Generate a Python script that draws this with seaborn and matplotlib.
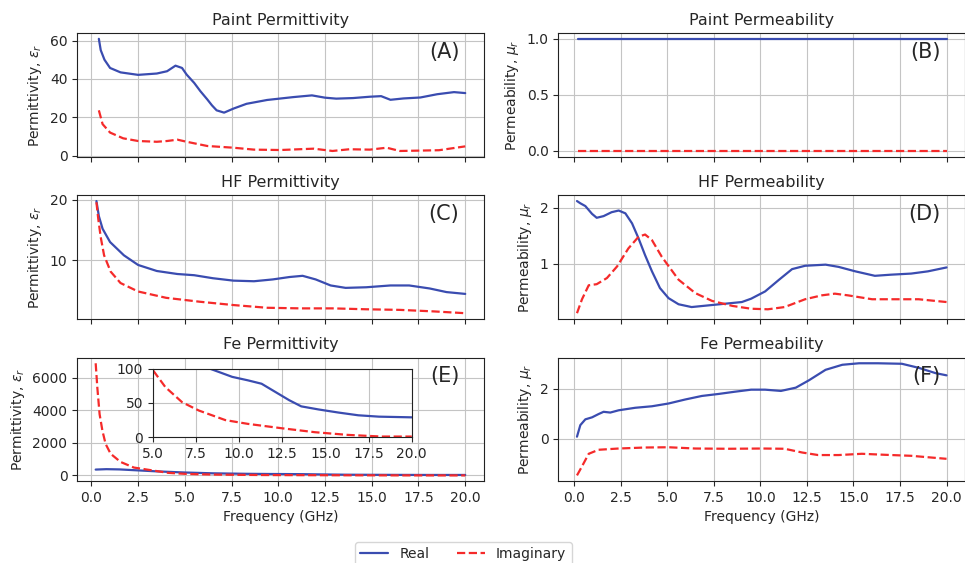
import matplotlib
matplotlib.use("Agg")
import matplotlib.pyplot as plt
import seaborn as sns

# ---- Paint permittivity (A) ----
paint_eps_re_f = [0.4, 0.5, 0.7, 1.0, 1.56, 2.5, 3.5, 4.05, 4.5, 4.85, 5.1, 5.5, 5.83, 6.2, 6.45, 6.7,
                  7.1, 7.6, 8.3, 9.4, 10.8, 11.8, 12.5, 13.1, 14.0, 14.9, 15.5, 16.0, 16.7, 17.6,
                  18.5, 19.4, 20.0]
paint_eps_re = [60.9, 55, 50, 45.7, 43.4, 42.1, 42.8, 44, 46.9, 45.7, 42.2, 37.9, 33.6, 29.3, 26.2, 23.6,
                22.4, 24.5, 27, 29, 30.5, 31.4, 30.2, 29.7, 30, 30.7, 31, 29.1, 29.8, 30.3,
                32, 33.1, 32.6]
paint_eps_im_f = [0.4, 0.6, 1.0, 1.7, 2.5, 3.5, 4.05, 4.6, 5.1, 6.2, 7.6, 8.7, 10.1, 11.9, 12.9,
                  13.8, 14.9, 15.8, 16.5, 17.6, 18.6, 20.0]
paint_eps_im = [23.6, 16.4, 12, 9, 7.6, 7.2, 7.6, 8.3, 7.2, 5, 4.1, 3.1, 2.9, 3.6, 2.4,
                3.3, 3.1, 4.1, 2.4, 2.6, 2.8, 4.8]

# ---- Paint permeability (B) ----
paint_mu_f = [0.2, 5.0, 10.0, 15.0, 20.0]
paint_mu_re = [1.0, 1.0, 1.0, 1.0, 1.0]
paint_mu_im = [0.0, 0.0, 0.0, 0.0, 0.0]

# ---- HF permittivity (C) ----
hf_eps_re_f = [0.27, 0.4, 0.6, 1.0, 1.74, 2.5, 3.5, 4.6, 5.5, 6.5, 7.6, 8.7, 9.7, 10.6, 11.3, 12.0,
               12.8, 13.6, 14.7, 16.0, 17.0, 18.1, 19.0, 20.0]
hf_eps_re = [19.8, 17.3, 15.2, 13, 10.8, 9.2, 8.2, 7.7, 7.5, 7, 6.6, 6.5, 6.8, 7.2, 7.4, 6.8,
             5.8, 5.4, 5.5, 5.8, 5.8, 5.3, 4.7, 4.4]
hf_eps_im_f = [0.27, 0.37, 0.5, 0.68, 1.03, 1.56, 2.5, 4.0, 5.8, 7.6, 9.4, 11.2, 12.9, 14.7,
               16.5, 18.3, 20.0]
hf_eps_im = [19.6, 16.8, 13.8, 10.8, 8.1, 6.2, 4.8, 3.75, 3.1, 2.55, 2.1, 2.0, 2.0, 1.85,
             1.75, 1.5, 1.2]

# ---- HF permeability (D) ----
hf_mu_re_f = [0.14, 0.32, 0.59, 0.95, 1.2, 1.57, 2.0, 2.38, 2.74, 3.1, 3.45, 3.8, 4.17, 4.6, 5.06,
              5.6, 6.3, 7.2, 8.1, 9.0, 9.5, 10.25, 11.0, 11.7, 12.4, 13.5, 14.2, 15.1, 16.15,
              17.0, 18.1, 19.0, 20.0]
hf_mu_re = [2.12, 2.08, 2.03, 1.89, 1.82, 1.85, 1.92, 1.95, 1.9, 1.72, 1.45, 1.15, 0.86, 0.56, 0.38,
            0.27, 0.22, 0.25, 0.28, 0.31, 0.37, 0.5, 0.71, 0.9, 0.96, 0.98, 0.94, 0.86, 0.78,
            0.8, 0.82, 0.86, 0.93]
hf_mu_im_f = [0.14, 0.41, 0.77, 1.2, 1.75, 2.3, 2.9, 3.45, 3.8, 4.17, 4.7, 5.6, 6.5, 7.4, 8.5,
              9.5, 10.4, 11.3, 12.4, 13.3, 14.0, 14.7, 16.0, 17.4, 18.5, 20.0]
hf_mu_im = [0.11, 0.36, 0.61, 0.63, 0.74, 0.95, 1.27, 1.48, 1.52, 1.42, 1.12, 0.71, 0.47, 0.33, 0.24,
            0.19, 0.18, 0.22, 0.36, 0.43, 0.46, 0.43, 0.36, 0.36, 0.36, 0.31]

# ---- Fe permittivity (E) ----
fe_eps_re_f = [0.23, 0.8, 1.5, 2.5, 3.5, 5.0, 6.5, 8.3, 9.6, 10.5, 11.3, 12.1, 12.9, 13.6, 14.6,
               15.75, 16.9, 18.1, 20.0]
fe_eps_re = [360, 385, 370, 310, 250, 180, 130, 100, 88, 83, 78, 66, 54, 45, 40.5,
             36, 32, 30, 29]
fe_eps_im_f = [0.23, 0.32, 0.44, 0.59, 0.76, 1.03, 1.56, 2.27, 3.2, 4.1, 5.0, 5.73, 6.7, 7.66,
               9.2, 10.5, 12.5, 14.4, 16.3, 18.25, 20.0]
fe_eps_im = [6890, 5370, 3760, 2750, 1940, 1330, 830, 485, 320, 160, 98, 73, 51, 39,
             25, 19.5, 13, 7.3, 3.4, 1, 1]

# ---- Fe permeability (F) ----
fe_mu_re_f = [0.14, 0.32, 0.59, 0.95, 1.3, 1.57, 1.93, 2.38, 3.27, 4.17, 5.06, 5.96, 6.85, 7.75,
              8.64, 9.5, 10.25, 11.1, 11.9, 12.6, 13.5, 14.4, 15.3, 16.3, 17.6, 18.5, 19.4, 20.0]
fe_mu_re = [0.09, 0.55, 0.78, 0.86, 0.99, 1.08, 1.05, 1.14, 1.24, 1.3, 1.41, 1.57, 1.71, 1.79,
            1.88, 1.96, 1.96, 1.91, 2.04, 2.33, 2.75, 2.95, 3.01, 3.01, 2.99, 2.83, 2.62, 2.53]
fe_mu_im_f = [0.14, 0.41, 0.77, 1.3, 2.38, 3.8, 5.06, 6.5, 8.3, 10.1, 11.3, 12.25, 13.1, 14.2,
              15.45, 16.7, 18.1, 20.0]
fe_mu_im = [-1.45, -1.09, -0.59, -0.43, -0.38, -0.34, -0.33, -0.38, -0.39, -0.38, -0.39, -0.54,
            -0.64, -0.64, -0.59, -0.63, -0.67, -0.79]

BLUE = '#3a4cb0'
RED = '#f52a2a'


def draw_pair(ax, f_re, re, f_im, im):
    sns.lineplot(x=f_re, y=re, ax=ax, color=BLUE, lw=1.6, label='Real', legend=False)
    sns.lineplot(x=f_im, y=im, ax=ax, color=RED, lw=1.6, linestyle='--', label='Imaginary', legend=False)


def main():
    sns.set_style('ticks', {'axes.grid': True, 'grid.color': '#c4c4c4',
                            'axes.edgecolor': '#222222'})
    plt.rcParams['font.family'] = ['DejaVu Sans']
    plt.rcParams['font.size'] = 10
    plt.rcParams['axes.titlesize'] = 11.5

    fig, axes = plt.subplots(3, 2, figsize=(9.65, 5.63), dpi=100, sharex='col')
    fig.subplots_adjust(left=0.08, right=1.0, bottom=0.1456, top=0.941, wspace=0.184, hspace=0.315)

    panels = [
        (axes[0, 0], paint_eps_re_f, paint_eps_re, paint_eps_im_f, paint_eps_im, 'Paint Permittivity', '(A)'),
        (axes[0, 1], paint_mu_f, paint_mu_re, paint_mu_f, paint_mu_im, 'Paint Permeability', '(B)'),
        (axes[1, 0], hf_eps_re_f, hf_eps_re, hf_eps_im_f, hf_eps_im, 'HF Permittivity', '(C)'),
        (axes[1, 1], hf_mu_re_f, hf_mu_re, hf_mu_im_f, hf_mu_im, 'HF Permeability', '(D)'),
        (axes[2, 0], fe_eps_re_f, fe_eps_re, fe_eps_im_f, fe_eps_im, 'Fe Permittivity', '(E)'),
        (axes[2, 1], fe_mu_re_f, fe_mu_re, fe_mu_im_f, fe_mu_im, 'Fe Permeability', '(F)'),
    ]
    for i, (ax, fr, r, fi, im, title, tag) in enumerate(panels):
        draw_pair(ax, fr, r, fi, im)
        ax.set_title(title)
        ax.text(0.94, 0.85, tag, transform=ax.transAxes, ha='right', va='center', fontsize=15)
        if i % 2 == 0:
            ax.set_ylabel(r'Permittivity, $\epsilon_r$')
        else:
            ax.set_ylabel(r'Permeability, $\mu_r$')
        ax.set_xticks([0, 2.5, 5, 7.5, 10, 12.5, 15, 17.5, 20])
    for ax in axes[2]:
        ax.set_xlabel('Frequency (GHz)')
    axes[0, 1].set_yticks([0.0, 0.5, 1.0])
    axes[1, 0].set_yticks([10, 20])
    axes[1, 1].set_yticks([1, 2])
    axes[2, 1].set_yticks([0, 2])

    # Inset for Fe permittivity
    ins = axes[2, 0].inset_axes([0.186, 0.355, 0.637, 0.556])
    draw_pair(ins, fe_eps_re_f, fe_eps_re, fe_eps_im_f, fe_eps_im)
    ins.set_xlim(5, 20)
    ins.set_ylim(0, 100)
    ins.set_xticks([5, 7.5, 10, 12.5, 15, 17.5, 20])
    ins.set_xticklabels(['5.0', '7.5', '10.0', '12.5', '15.0', '17.5', '20.0'])
    ins.set_yticks([0, 50, 100])
    ins.grid(True)

    handles, labels = axes[0, 0].get_legend_handles_labels()
    fig.legend(handles, labels, loc='upper center', ncol=2, bbox_to_anchor=(0.48, 0.05),
               frameon=True, fontsize=10)

    fig.savefig('out.png', dpi=100)


if __name__ == "__main__":
    main()
